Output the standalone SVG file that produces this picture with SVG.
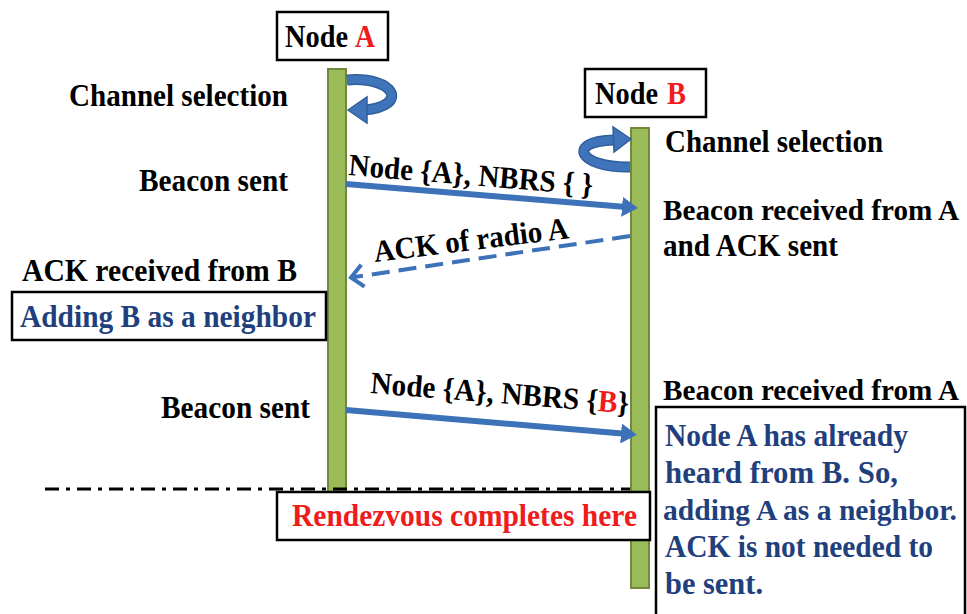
<svg xmlns="http://www.w3.org/2000/svg" width="967" height="614" viewBox="0 0 967 614">
<style>
text{font-family:'Liberation Serif','Times New Roman',serif;font-weight:bold;font-size:31px;fill:#000}
.sm{font-size:28.5px}
.red{fill:#ee1c1c}
.navy{fill:#1f3f7d}
.box{fill:#fff;stroke:#000;stroke-width:2.5}
.life{fill:#9bbb59;stroke:#71893f;stroke-width:2}
.msg{stroke:#3d72b8;stroke-width:6;fill:none}
.dash{stroke:#3d72b8;stroke-width:4;fill:none;stroke-dasharray:18 9}
.loop{stroke:#2f5e9c;stroke-width:11;fill:none}
.loopin{stroke:#3f74ba;stroke-width:8;fill:none}
.head{fill:#3f74ba;stroke:#2f5e9c;stroke-width:1.5}
</style>
<defs>
<marker id="ah" markerUnits="userSpaceOnUse" viewBox="0 0 16 20" refX="1" refY="10" markerWidth="16" markerHeight="20" orient="auto">
<path d="M0,0 L16,10 L0,20 z" fill="#3d72b8"/>
</marker>
<marker id="chev" markerUnits="userSpaceOnUse" viewBox="0 0 18 26" refX="15" refY="13" markerWidth="18" markerHeight="26" orient="auto">
<path d="M3,2 L15,13 L3,24" fill="none" stroke="#3d72b8" stroke-width="4"/>
</marker>
</defs>
<rect width="967" height="614" fill="#fff"/>

<g id="lifelineA"><rect class="life" x="328" y="69" width="18" height="436"/></g>
<g id="lifelineB"><rect class="life" x="631" y="128" width="18" height="460"/></g>

<g id="nodeA">
<rect class="box" x="277" y="12" width="111" height="48"/>
<text x="285" y="47" textLength="63" lengthAdjust="spacingAndGlyphs">Node</text>
<text class="red" x="355" y="47" textLength="20" lengthAdjust="spacingAndGlyphs">A</text>
</g>
<g id="nodeB">
<rect class="box" x="585" y="69" width="121" height="48"/>
<text x="595" y="104" textLength="63" lengthAdjust="spacingAndGlyphs">Node</text>
<text class="red" x="667" y="104" textLength="19" lengthAdjust="spacingAndGlyphs">B</text>
</g>

<g id="loopA">
<path class="loop" d="M347,80 C395,76 410,106 364,110"/>
<path class="loopin" d="M347,80 C395,76 410,106 364,110"/>
<polygon class="head" points="348,110 367,97 367,123"/>
</g>
<g id="loopB">
<path class="loop" d="M630,167 C578,168 566,141 614,140"/>
<path class="loopin" d="M630,167 C578,168 566,141 614,140"/>
<polygon class="head" points="631,139 613,127 614,152"/>
</g>

<g id="labels">
<text x="69" y="106" textLength="219" lengthAdjust="spacingAndGlyphs">Channel selection</text>
<text x="665" y="152" textLength="218" lengthAdjust="spacingAndGlyphs">Channel selection</text>
<text x="139" y="191" textLength="149" lengthAdjust="spacingAndGlyphs">Beacon sent</text>
<text class="sm" x="663" y="220" textLength="296" lengthAdjust="spacingAndGlyphs">Beacon received  from A</text>
<text x="663" y="256" textLength="175" lengthAdjust="spacingAndGlyphs">and ACK sent</text>
<text x="22" y="281" textLength="275" lengthAdjust="spacingAndGlyphs">ACK received  from B</text>
<text x="161" y="418" textLength="149" lengthAdjust="spacingAndGlyphs">Beacon sent</text>
<text class="sm" x="663" y="400" textLength="296" lengthAdjust="spacingAndGlyphs">Beacon received  from A</text>
</g>

<g id="addingB">
<rect class="box" x="12" y="292" width="314" height="48"/>
<text class="navy" x="20" y="327" textLength="296" lengthAdjust="spacingAndGlyphs">Adding B as a neighbor</text>
</g>

<g id="noteB">
<rect class="box" x="656" y="407" width="309" height="215"/>
<text class="navy" x="665" y="446" textLength="243" lengthAdjust="spacingAndGlyphs">Node A has already</text>
<text class="navy" x="665" y="483" textLength="233" lengthAdjust="spacingAndGlyphs">heard from B. So,</text>
<text class="navy sm" x="663" y="520" textLength="294" lengthAdjust="spacingAndGlyphs">adding A as a neighbor.</text>
<text class="navy" x="665" y="557" textLength="268" lengthAdjust="spacingAndGlyphs">ACK is not needed to</text>
<text class="navy" x="665" y="594" textLength="98" lengthAdjust="spacingAndGlyphs">be sent.</text>
</g>

<g id="connectors">
<line class="msg" x1="346" y1="184" x2="623" y2="206.8" marker-end="url(#ah)"/>
<line class="dash" x1="630" y1="236" x2="351" y2="277.5" marker-end="url(#chev)"/>
<line class="msg" x1="346" y1="410" x2="622" y2="433.5" marker-end="url(#ah)"/>
<line x1="45" y1="489" x2="630" y2="489" stroke="#000" stroke-width="3" stroke-dasharray="14 7 4 7"/>
</g>

<g id="msgLabels">
<text x="348" y="175" transform="rotate(4.7 348 175)" textLength="245" lengthAdjust="spacingAndGlyphs">Node {A}, NBRS { }</text>
<text x="375" y="262" transform="rotate(-7 375 262)" textLength="196" lengthAdjust="spacingAndGlyphs">ACK of radio A</text>
<text x="370" y="393" transform="rotate(4.5 370 393)" textLength="259" lengthAdjust="spacingAndGlyphs">Node {A}, NBRS {<tspan class="red">B</tspan>}</text>
</g>

<g id="rendezvous">
<rect class="box" x="277" y="492" width="373" height="48"/>
<text class="red" x="292" y="526" textLength="345" lengthAdjust="spacingAndGlyphs">Rendezvous  completes  here</text>
</g>
</svg>
